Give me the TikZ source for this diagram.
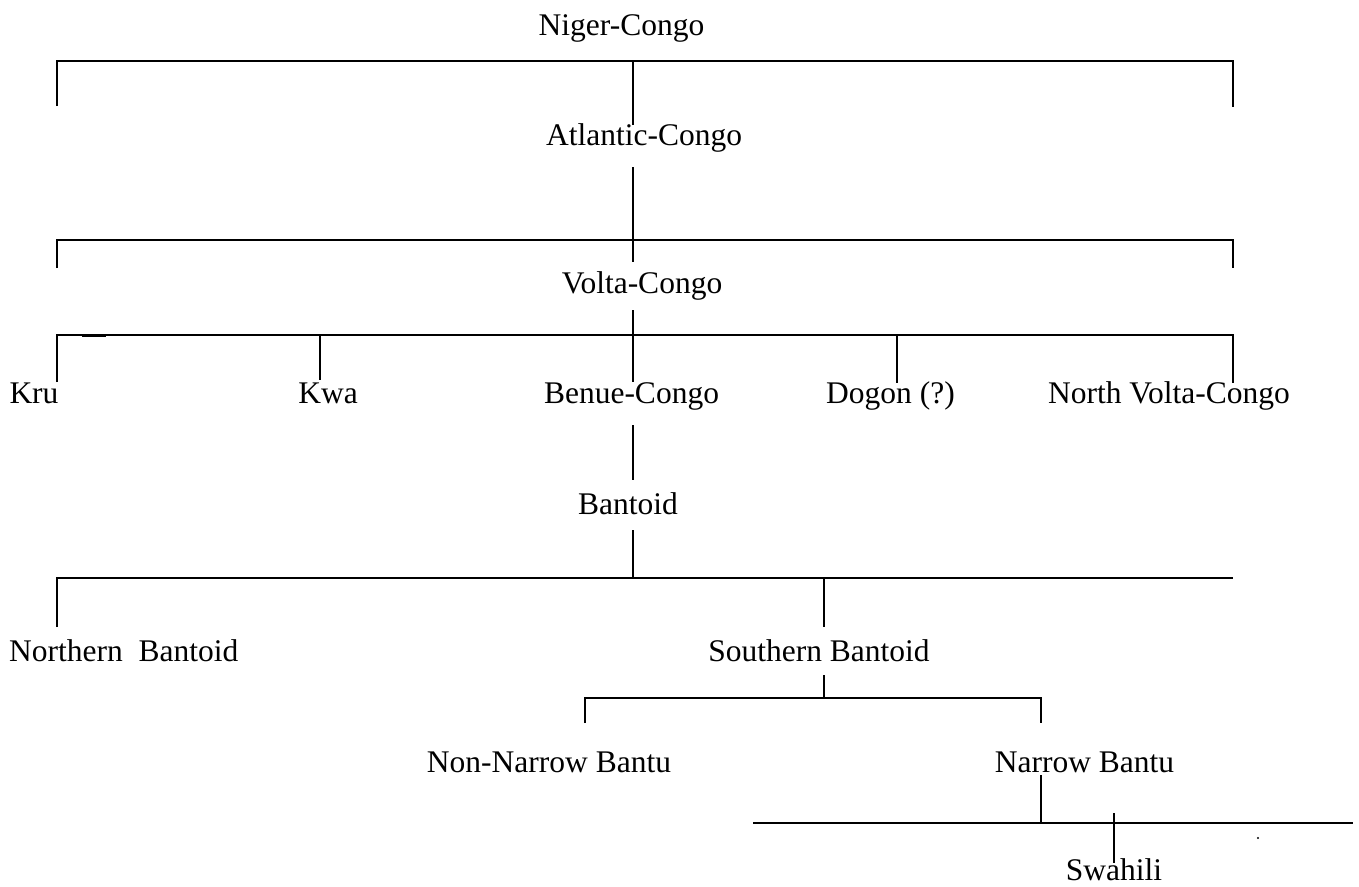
\documentclass[tikz,border=0pt]{standalone}
\usepackage{fontspec}
\setmainfont{Liberation Serif}
\begin{document}
\begin{tikzpicture}[x=1pt,y=-1pt,
  lbl/.style={inner sep=0pt,anchor=base,font=\fontsize{31.5}{36}\selectfont},
  conn/.style={line width=1.3pt,line cap=butt,line join=miter}]
\useasboundingbox (0,0) rectangle (1359,886);
% labels
\node[lbl] (nc)  at (621.5,35)  {Niger-Congo};
\node[lbl] (ac)  at (644,145)   {Atlantic-Congo};
\node[lbl] (vc)  at (642,293)   {Volta-Congo};
\node[lbl] (kru) at (34,403)    {Kru};
\node[lbl] (kwa) at (328,403)   {Kwa};
\node[lbl] (bc)  at (631.5,403) {Benue-Congo};
\node[lbl] (dog) at (890.5,403) {Dogon (?)};
\node[lbl] (nvc) at (1169,403)  {North Volta-Congo};
\node[lbl] (ban) at (628,514)   {Bantoid};
\node[lbl,anchor=base west] (nb) at (9,661) {Northern\ \ Bantoid};
\node[lbl] (sb)  at (819,661)   {Southern Bantoid};
\node[lbl] (nnb) at (549,772)   {Non-Narrow Bantu};
\node[lbl] (nrb) at (1084.5,772){Narrow Bantu};
\node[lbl] (swa) at (1114,880)  {Swahili};
% junction coordinates
\coordinate (l1a) at (57,61);   \coordinate (l1b) at (1233,61);  \coordinate (l1m) at (633,61);
\coordinate (l1ad) at (57,106); \coordinate (l1bd) at (1233,107); \coordinate (acT) at (633,125);
\coordinate (acB) at (633,167); \coordinate (vcT) at (633,262);
\coordinate (l2a) at (57,240);  \coordinate (l2b) at (1233,240);
\coordinate (l2ad) at (57,268); \coordinate (l2bd) at (1233,268);
\coordinate (vcB) at (633,310); \coordinate (bcT) at (633,382);
\coordinate (l3a) at (57,335);  \coordinate (l3b) at (1233,335);
\coordinate (kruT) at (57,382); \coordinate (kwaJ) at (320,335); \coordinate (kwaT) at (320,380);
\coordinate (dogJ) at (897,335); \coordinate (dogT) at (897,383); \coordinate (nvcT) at (1233,383);
\coordinate (bcB) at (633,425); \coordinate (banT) at (633,480);
\coordinate (banB) at (633,530); \coordinate (l4m) at (633,578);
\coordinate (l4a) at (57,578); \coordinate (l4b) at (1233,578);
\coordinate (nbT) at (57,627); \coordinate (sbJ) at (824,578); \coordinate (sbT) at (824,627);
\coordinate (sbB) at (824,675); \coordinate (l5m) at (824,698);
\coordinate (l5a) at (585,698); \coordinate (l5b) at (1041,698);
\coordinate (nnbT) at (585,723); \coordinate (nrbT) at (1041,723);
\coordinate (nrbB) at (1041,775); \coordinate (l6m) at (1041,823);
\coordinate (l6a) at (753,823); \coordinate (l6b) at (1353,823);
\coordinate (swaJ) at (1114,813); \coordinate (swaT) at (1114,863);
% connectors
\draw[conn] (l1ad) -- (l1a) -- (l1b) -- (l1bd);
\draw[conn] (l1m) -- (acT);
\draw[conn] (acB) -- (vcT);
\draw[conn] (l2ad) -- (l2a) -- (l2b) -- (l2bd);
\draw[conn] (vcB) -- (bcT);
\draw[conn] (kruT) -- (l3a) -- (l3b) -- (nvcT);
\draw[line width=3pt] (82,335) -- (106,335);
\draw[conn] (kwaJ) -- (kwaT);
\draw[conn] (dogJ) -- (dogT);
\draw[conn] (bcB) -- (banT);
\draw[conn] (banB) -- (l4m);
\draw[conn] (nbT) -- (l4a) -- (l4b);
\draw[conn] (sbJ) -- (sbT);
\draw[conn] (sbB) -- (l5m);
\draw[conn] (nnbT) -- (l5a) -- (l5b) -- (nrbT);
\draw[conn] (nrbB) -- (l6m);
\draw[conn] (l6a) -- (l6b);
\draw[conn] (swaJ) -- (swaT);
\fill (1258,838) circle (1.2);
\end{tikzpicture}
\end{document}
